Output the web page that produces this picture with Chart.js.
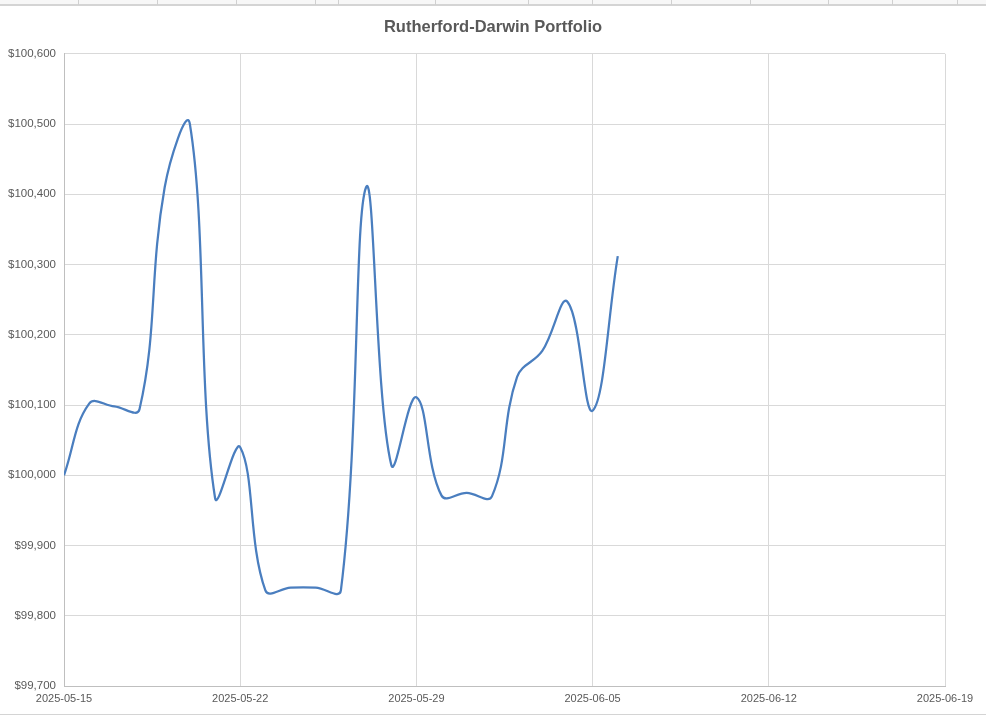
<!DOCTYPE html>
<html>
<head>
<meta charset="utf-8">
<script src="https://cdn.jsdelivr.net/npm/chart.js@4.4.1/dist/chart.umd.min.js"></script>
<style>
  html, body { margin: 0; padding: 0; background: #ffffff; }
  #wrap { position: relative; width: 986px; height: 719px; overflow: hidden; }
  #topstrip { position: absolute; left: 0; top: 0; width: 986px; height: 4px; border-bottom: 2px solid #d4d4d4; background: #f7f7f7; }
  .sep { position: absolute; top: 0; width: 1px; height: 5px; background: #d0d0d0; }
  #botline { position: absolute; left: 0; top: 714px; width: 986px; height: 0; border-top: 1px solid #d4d4d4; }
  #c { position: absolute; left: 0; top: 0; }
</style>
</head>
<body>
<div id="wrap">
  <canvas id="c" width="986" height="719"></canvas>
  <div id="topstrip"></div>
  <div id="botline"></div>
</div>
<script>
// ---- Data ----
const chartTitle = "Rutherford-Darwin Portfolio";
const dates = [
  "2025-05-15","2025-05-16","2025-05-17","2025-05-18","2025-05-19","2025-05-20",
  "2025-05-21","2025-05-22","2025-05-23","2025-05-24","2025-05-25","2025-05-26",
  "2025-05-27","2025-05-28","2025-05-29","2025-05-30","2025-05-31","2025-06-01",
  "2025-06-02","2025-06-03","2025-06-04","2025-06-05","2025-06-06"
];
const portfolioValues = [
  100000, 100102, 100098, 100094, 100410, 100500,
  99968, 100040, 99836, 99840, 99840, 99836,
  100410, 100015, 100111, 99971, 99975, 99970,
  100140, 100177, 100247, 100092, 100312
];
const xTickLabels = ["2025-05-15","2025-05-22","2025-05-29","2025-06-05","2025-06-12","2025-06-19"];
const yTickValues = [99700, 99800, 99900, 100000, 100100, 100200, 100300, 100400, 100500, 100600];

// decorative spreadsheet column separators in the top strip
[78, 157, 236, 315, 338, 435, 528, 592, 671, 750, 828, 892, 957].forEach(x => {
  const d = document.createElement("div");
  d.className = "sep"; d.style.left = x + "px";
  document.getElementById("wrap").appendChild(d);
});

// ---- Helpers ----
const DAY = 86400000;
const baseTime = Date.parse(xTickLabels[0] + "T00:00:00Z");
const dayIndex = s => Math.round((Date.parse(s + "T00:00:00Z") - baseTime) / DAY);
const points = dates.map((d, i) => ({ x: dayIndex(d), y: portfolioValues[i] }));
const xTickPos = xTickLabels.map(dayIndex);
const fmtMoney = v => "$" + Math.round(v).toLocaleString("en-US");

const FONT = "'Liberation Sans', Arial, sans-serif";
const TXT = "#595959";

new Chart(document.getElementById("c"), {
  type: "line",
  data: {
    datasets: [{
      label: "Portfolio",
      data: points,
      borderColor: "#4A7EBF",
      borderWidth: 2.25,
      pointRadius: 0,
      tension: 0.4,
      fill: false,
      yAxisID: "y"
    }]
  },
  options: {
    responsive: false,
    animation: false,
    devicePixelRatio: 1,
    layout: { padding: { left: 0, right: 0, top: 0, bottom: 0 } },
    plugins: {
      legend: { display: false },
      tooltip: { enabled: false },
      title: {
        display: true,
        text: chartTitle,
        color: TXT,
        font: { family: FONT, size: 16.5, weight: "bold" },
        padding: { top: 18, bottom: 16 }
      }
    },
    scales: {
      x: {
        type: "linear",
        min: xTickPos[0],
        max: xTickPos[xTickPos.length - 1],
        afterBuildTicks: axis => { axis.ticks = xTickPos.map(v => ({ value: v })); },
        afterFit: axis => { axis.height = 33; },
        ticks: {
          color: TXT,
          font: { family: FONT, size: 11 },
          maxRotation: 0,
          autoSkip: false,
          padding: 6,
          callback: (v) => { const i = xTickPos.indexOf(v); return i >= 0 ? xTickLabels[i] : ""; }
        },
        grid: { color: "#d9d9d9", lineWidth: 1, drawTicks: false },
        border: { color: "#bfbfbf", width: 1 }
      },
      y: {
        position: "left",
        min: yTickValues[0],
        max: yTickValues[yTickValues.length - 1],
        afterBuildTicks: axis => { axis.ticks = yTickValues.map(v => ({ value: v })); },
        afterFit: axis => { axis.width = 64; },
        ticks: {
          color: TXT,
          font: { family: FONT, size: 11.5 },
          padding: 8,
          callback: v => fmtMoney(v)
        },
        grid: { color: "#d9d9d9", lineWidth: 1, drawTicks: false },
        border: { color: "#bfbfbf", width: 1 }
      },
      yRightSpacer: {
        position: "right",
        display: true,
        min: yTickValues[0],
        max: yTickValues[yTickValues.length - 1],
        afterFit: axis => { axis.width = 41; },
        ticks: { display: false },
        grid: { display: false, drawTicks: false },
        border: { display: false }
      }
    }
  }
});
</script>
</body>
</html>
